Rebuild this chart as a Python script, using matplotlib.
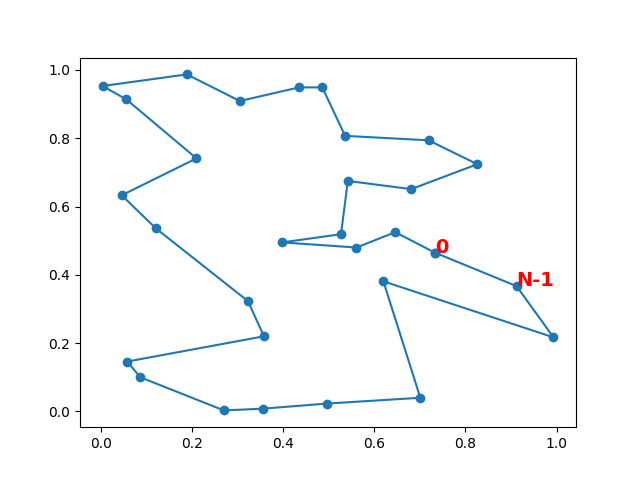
import matplotlib
matplotlib.use("Agg")
import matplotlib.pyplot as plt

xs = [0.733, 0.646, 0.561, 0.398, 0.527, 0.542, 0.681, 0.826, 0.719, 0.536,
      0.486, 0.435, 0.305, 0.189, 0.004, 0.056, 0.210, 0.046, 0.121, 0.323,
      0.358, 0.058, 0.087, 0.270, 0.355, 0.496, 0.701, 0.620, 0.993, 0.912]
ys = [0.465, 0.525, 0.480, 0.495, 0.519, 0.675, 0.651, 0.724, 0.794, 0.807,
      0.949, 0.949, 0.909, 0.987, 0.953, 0.914, 0.741, 0.633, 0.536, 0.323,
      0.220, 0.146, 0.100, 0.003, 0.008, 0.023, 0.040, 0.381, 0.217, 0.367]
labels = ["0", "N-1"]

fig, ax = plt.subplots(figsize=(6.4, 4.8), dpi=100)
ax.plot(xs + [xs[0]], ys + [ys[0]], "o-")
ax.text(xs[0], ys[0], labels[0], color="red", fontsize=14, fontweight="bold")
ax.text(xs[-1], ys[-1], labels[1], color="red", fontsize=14, fontweight="bold")
fig.savefig("out.png")
